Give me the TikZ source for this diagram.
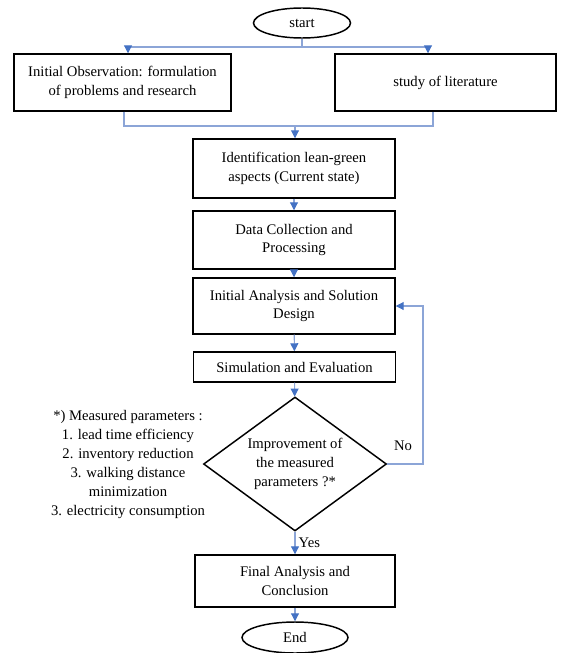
\documentclass[tikz,border=0pt]{standalone}
\usepackage{fontspec}
\setmainfont{Liberation Serif}
\usetikzlibrary{arrows.meta,shapes.geometric}
\definecolor{linkcol}{RGB}{140,165,215}
\definecolor{tipcol}{RGB}{68,114,196}

\begin{document}
\begin{tikzpicture}[x=0.75pt,y=-0.75pt,font=\fontsize{11}{14}\selectfont,
    box/.style={draw,line width=1.1pt,align=center,inner sep=2pt},
    term/.style={draw,line width=1.1pt,ellipse,inner sep=0pt},
    link/.style={linkcol,line width=0.8pt},
    arr/.style={link,-{Triangle[length=6pt,width=6pt,color=tipcol]}}]
  \useasboundingbox (0,0) rectangle (571,653);
  % ---------------- nodes ----------------
  \node[term,minimum width=72.75pt,minimum height=22.5pt] (start) at (302,23) {start};
  \node[box,minimum width=162.75pt,minimum height=42.75pt] (obs) at (122.5,82.5)
     {Initial Observation: formulation\\of problems and research};
  \node[box,minimum width=165.75pt,minimum height=42.75pt] (lit) at (445.5,82.5)
     {study of literature};
  \node[box,minimum width=151.5pt,minimum height=44.25pt] (ident) at (294,168.5)
     {Identification lean-green\\aspects (Current state)};
  \node[box,minimum width=151.5pt,minimum height=43.5pt] (data) at (294,240)
     {Data Collection and\\Processing};
  \node[box,minimum width=151.5pt,minimum height=42pt] (design) at (294,306)
     {Initial Analysis and Solution\\Design};
  \node[box,minimum width=151.5pt,minimum height=22.5pt] (sim) at (294.5,367)
     {Simulation and Evaluation};
  \node[draw,line width=1.1pt,diamond,aspect=1.37,inner sep=0pt,align=center,
        minimum width=137.25pt,minimum height=100.5pt] (check) at (295,464)
     {Improvement of\\the measured\\parameters ?*};
  \node[box,minimum width=150pt,minimum height=39pt] (final) at (295,581)
     {Final Analysis and\\Conclusion};
  \node[term,minimum width=79.5pt,minimum height=23.25pt] (end) at (295,637.5) {End};
  \node[align=center,font=\fontsize{11}{14.25}\selectfont] (note) at (128,464.5)
     {*) Measured parameters :\\1. lead time efficiency\\2. inventory reduction\\
      3. walking distance\\minimization\\3. electricity consumption};
  % ---------------- connectors ----------------
  \coordinate (sl) at (128,47);
  \coordinate (sr) at (428,47);
  \coordinate (jl) at (124,126);
  \coordinate (jr) at (433,126);
  \coordinate (jm) at (295,126);
  \coordinate (back) at (423,464);
  \draw[link] (start.south) -- (start.south |- sl);
  \draw[link] (sl) -- (sr);
  \draw[arr] (sl) -- (sl |- obs.north);
  \draw[arr] (sr) -- (sr |- lit.north);
  \draw[link] (jl |- obs.south) -- (jl) -- (jr) -- (jr |- lit.south);
  \draw[arr] (jm) -- (jm |- ident.north);
  \draw[arr] (ident) -- (data);
  \draw[arr] (data) -- (design);
  \draw[arr] (design) -- (sim);
  \draw[arr] (sim) -- (check);
  \draw[arr] (check.east) -- (back) |- (design.east);
  \node (no) at (403,446) {No};
  \draw[arr] (check.south) -- (final.north) node[midway,right=-1pt,text=black] (yes) {Yes};
  \draw[arr] (final) -- (end);
\end{tikzpicture}
\end{document}
